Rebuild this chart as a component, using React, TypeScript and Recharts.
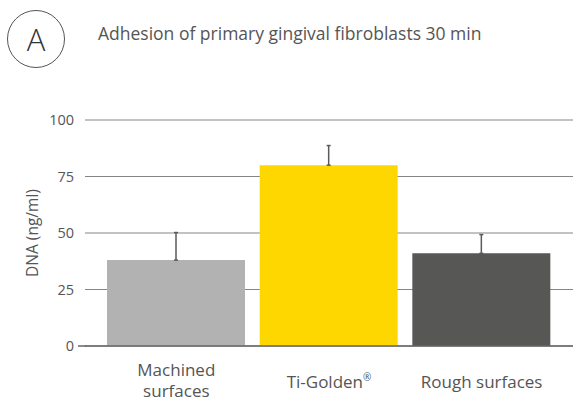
import { Bar, BarChart, CartesianGrid, Cell, ErrorBar, XAxis, YAxis } from "recharts";

const categories = ["Machined\nsurfaces", "Ti-Golden®", "Rough surfaces"];
const dnaMean = [38, 80, 41];
const dnaErrUp = [12.2, 8.7, 8.3];
const barColors = ["#b2b2b2", "#ffd700", "#575756"];
const yTicks = [0, 25, 50, 75, 100];

const TEXT = "#555555";
const FONT = "'Open Sans', sans-serif";
const W = 573;
const H = 401;

const data = categories.map((name, i) => ({
  name,
  dna: dnaMean[i],
  err: [0, dnaErrUp[i]],
}));

/** Y tick; the 0 tick also stretches the baseline a little to the left like the original. */
function YTick({ x, y, payload }: any) {
  return (
    <g>
      {payload.value === 0 && <line x1={x + 4} x2={x + 12} y1={y} y2={y} stroke="#666" strokeWidth={1.5} />}
      <text x={x} y={y} dy={5} textAnchor="end" fill={TEXT} fontSize={14.5} fontFamily={FONT}>
        {payload.value}
      </text>
    </g>
  );
}

function XTick({ x, y, payload }: any) {
  const lines = String(payload.value).split("\n");
  const first = lines.length > 1 ? y + 28 : y + 40;
  return (
    <g>
      {lines.map((l, i) => {
        const reg = l.endsWith("®");
        return (
          <text key={i} x={x} y={first + i * 21} textAnchor="middle" fill={TEXT} fontSize={17} fontFamily={FONT}>
            {reg ? l.slice(0, -1) : l}
            {reg && (
              <tspan fontSize={10} dy={-7}>
                ®
              </tspan>
            )}
          </text>
        );
      })}
    </g>
  );
}

export default function App() {
  return (
    <div style={{ position: "absolute", left: 0, top: 0, width: W, height: H, background: "#fff", fontFamily: FONT }}>
      {/* panel letter */}
      <div
        style={{
          position: "absolute",
          left: 7,
          top: 10,
          width: 56,
          height: 56,
          borderRadius: "50%",
          border: "1.5px solid #555",
          display: "flex",
          alignItems: "center",
          justifyContent: "center",
          fontSize: 31,
          fontWeight: 300,
          color: "#333",
        }}
      >
        A
      </div>
      <div style={{ position: "absolute", left: 98, top: 21, fontSize: 17.5, color: TEXT, whiteSpace: "nowrap" }}>
        Adhesion of primary gingival fibroblasts 30 min
      </div>

      <BarChart
        width={W}
        height={H}
        data={data}
        margin={{ top: 120, right: 0, left: 0, bottom: 0 }}
        style={{ position: "absolute", left: 0, top: 0 }}
      >
        <CartesianGrid vertical={false} stroke="#858585" strokeWidth={1} />
        <XAxis
          dataKey="name"
          interval={0}
          padding={{ left: 15, right: 15 }}
          axisLine={{ stroke: "#666", strokeWidth: 1.5 }}
          tickLine={false}
          tickSize={0}
          height={55}
          tick={(p: any) => <XTick {...p} />}
        />
        <YAxis
          domain={[0, 100]}
          ticks={yTicks}
          width={85}
          axisLine={false}
          tickLine={false}
          tickSize={0}
          tickMargin={11}
          tick={(p: any) => <YTick {...p} />}
          label={{
            value: "DNA (ng/ml)",
            angle: -90,
            position: "insideLeft",
            dx: 27,
            style: { fill: TEXT, fontSize: 15.5, fontFamily: FONT, textAnchor: "middle" },
          }}
        />
        <Bar dataKey="dna" barSize={138} isAnimationActive={false}>
          {data.map((_, i) => (
            <Cell key={i} fill={barColors[i]} />
          ))}
          <ErrorBar dataKey="err" direction="y" width={2} stroke="#5a5a5a" strokeWidth={1.5} isAnimationActive={false} />
        </Bar>
      </BarChart>
    </div>
  );
}
